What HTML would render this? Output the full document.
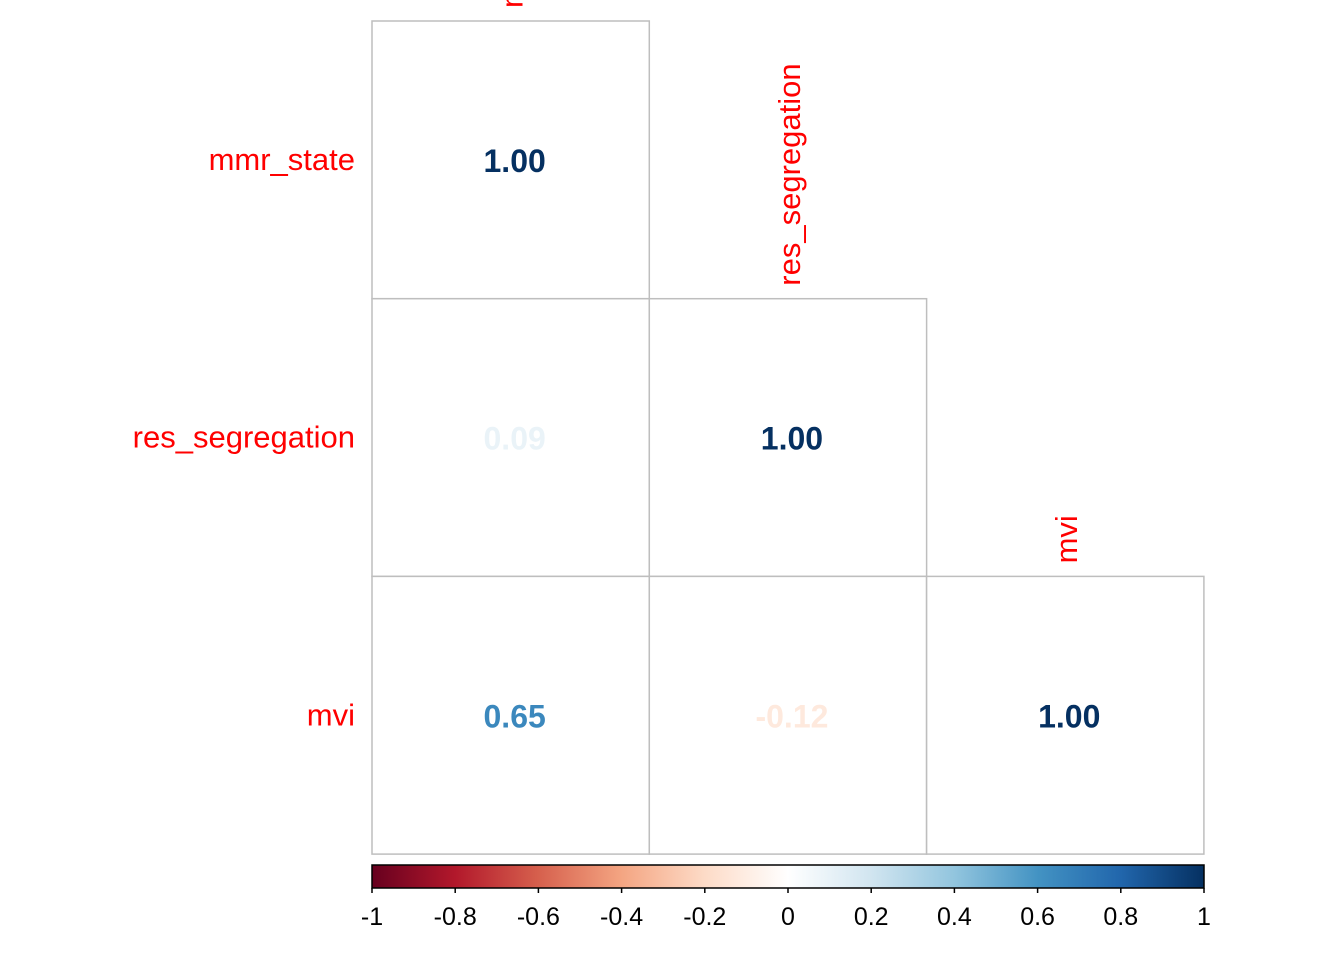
<!DOCTYPE html>
<html><head><meta charset="utf-8"><style>
html,body{margin:0;padding:0;background:#fff;}
svg{display:block;font-family:"Liberation Sans",Arial,sans-serif;}
</style></head><body>
<svg id="chart" width="1344" height="960" viewBox="0 0 1344 960">
<defs>
<linearGradient id="rdbu" x1="0" x2="1" y1="0" y2="0">
<stop offset="0" stop-color="#67001F"/><stop offset="0.1" stop-color="#B2182B"/>
<stop offset="0.2" stop-color="#D6604D"/><stop offset="0.3" stop-color="#F4A582"/>
<stop offset="0.4" stop-color="#FDDBC7"/><stop offset="0.5" stop-color="#FFFFFF"/>
<stop offset="0.6" stop-color="#D1E5F0"/><stop offset="0.7" stop-color="#92C5DE"/>
<stop offset="0.8" stop-color="#4393C3"/><stop offset="0.9" stop-color="#2166AC"/>
<stop offset="1" stop-color="#053061"/>
</linearGradient>
</defs>
<g id="cells"></g>
<g id="legend"></g>
</svg>
<script>
const vars = ["mmr_state","res_segregation","mvi"];
const corr = [[1.00],[0.09,1.00],[0.65,-0.12,1.00]];
const ticks = [-1,-0.8,-0.6,-0.4,-0.2,0,0.2,0.4,0.6,0.8,1];
const tickLabels = ["-1","-0.8","-0.6","-0.4","-0.2","0","0.2","0.4","0.6","0.8","1"];

const NS="http://www.w3.org/2000/svg";
const x0=372, y0=21, cw=277.3, ch=277.7;
const stops=[[103,0,31],[178,24,43],[214,96,77],[244,165,130],[253,219,199],[255,255,255],[209,229,240],[146,197,222],[67,147,195],[33,102,172],[5,48,97]];
function col(v){const t=(v+1)/2*10;const i=Math.min(9,Math.floor(t));const f=t-i;const a=stops[i],b=stops[i+1];
return `rgb(${a.map((c,k)=>Math.round(c+(b[k]-c)*f)).join(',')})`;}
function mk(tag,attrs,parent){const e=document.createElementNS(NS,tag);for(const k in attrs)e.setAttribute(k,attrs[k]);parent.appendChild(e);return e;}
const cells=document.getElementById('cells');
vars.forEach((v,i)=>{
  const rl=mk('text',{x:355,y:y0+ch*(i+0.5)+10,'text-anchor':'end','font-size':31,fill:'#FF0000'},cells);
  rl.textContent=v;
  
  
  const cx=x0+cw*(i+0.5)+12, cy=y0+ch*i-13;
  const cl=mk('text',{x:cx,y:cy,transform:`rotate(-90 ${cx} ${cy})`,'font-size':31,fill:'#FF0000'},cells);
  cl.textContent=v;
  
  
  corr[i].forEach((r,j)=>{
    const rc=mk('rect',{x:x0+cw*j,y:y0+ch*i,width:cw,height:ch,fill:'#fff',stroke:'#BEBEBE','stroke-width':1.5},cells);
    
    
    const t=mk('text',{x:x0+cw*(j+0.5)+4,y:y0+ch*(i+0.5)+12,'text-anchor':'middle','font-size':32,'font-weight':'bold',fill:col(r)},cells);
    t.textContent=r.toFixed(2);
    
    
  });
});
const lg=document.getElementById('legend');
const bx=372,bw=832,by=865,bh=23;
const bar=mk('rect',{x:bx,y:by,width:bw,height:bh,fill:'url(#rdbu)',stroke:'#000','stroke-width':1.5},lg);


ticks.forEach((v,k)=>{
  const x=bx+(v+1)/2*bw;
  const tk=mk('line',{x1:x,x2:x,y1:by+bh,y2:by+bh+5,stroke:'#000','stroke-width':1.5},lg);
  
  
  const tl=mk('text',{x:x,y:925,'text-anchor':'middle','font-size':25,fill:'#000'},lg);
  tl.textContent=tickLabels[k];
  
  
});
</script>
</body></html>
